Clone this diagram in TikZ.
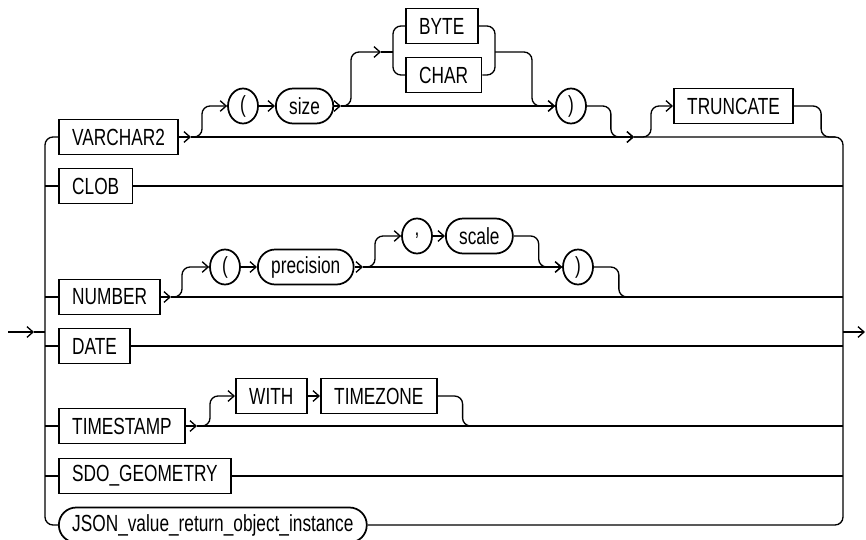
\documentclass[tikz,border=0pt]{standalone}
\usepackage{fontspec}
\setmainfont{Liberation Sans}[FakeStretch=0.74]
\usetikzlibrary{arrows.meta,shapes.geometric}
\tikzset{
rail/.style={line width=1pt, rounded corners=6pt},
railtip/.style={-{Straight Barb[length=4.5pt,width=8pt]}},
kwbox/.style={draw, rectangle, line width=1.3pt, minimum height=26.25pt, inner xsep=10pt, inner ysep=0pt, font=\fontsize{17.5}{19}\selectfont},
varbox/.style={draw, rectangle, rounded corners=13pt, line width=1.3pt, minimum height=26.25pt, inner xsep=10pt, inner ysep=0pt, font=\fontsize{17.5}{19}\selectfont},
punct/.style={draw, ellipse, line width=1.3pt, minimum width=22.5pt, minimum height=26.25pt, inner sep=0pt, font=\fontsize{17.5}{19}\selectfont}}

\begin{document}
\begin{tikzpicture}[x=0.75pt,y=0.75pt,yscale=-1,xscale=1]
\useasboundingbox (0,0) rectangle (866,539);

% Main choice
\node [kwbox, anchor=west] (vc) at (58,137) {VARCHAR2};
\node [kwbox, anchor=west] (clob) at (58,186) {CLOB};
\node [kwbox, anchor=west] (num) at (58,297) {NUMBER};
\node [kwbox, anchor=west] (date) at (58,346) {DATE};
\node [kwbox, anchor=west] (ts) at (58,426) {TIMESTAMP};
\node [kwbox, anchor=west] (sdo) at (58,476) {SDO\_GEOMETRY};
\node [varbox, anchor=west] (json) at (58,525) {JSON\_value\_return\_object\_instance};

% VARCHAR2 options
\node [punct] (lpa) at (243,106) {(};
\node [varbox, anchor=west] (size) at (275,106) {size};
\node [kwbox, anchor=west] (byte) at (405,26) {BYTE};
\node [kwbox, anchor=west] (char) at (405,75) {CHAR};
\node [punct] (rpa) at (571,106) {)};
\node [kwbox, anchor=west] (trunc) at (673,106) {TRUNCATE};

% NUMBER options
\node [punct] (lpb) at (225,267) {(};
\node [varbox, anchor=west] (prec) at (257,267) {precision};
\node [punct] (comma) at (417,236) {,};
\node [varbox, anchor=west] (scale) at (445,236) {scale};
\node [punct] (rpb) at (578,267) {)};

% TIMESTAMP options
\node [kwbox, anchor=west] (with) at (235,396) {WITH};
\node [kwbox, anchor=west] (tz) at (320,396) {TIMEZONE};

% Junctions
\coordinate (entry) at (8,332);
\coordinate (enT) at (34,332);
\coordinate (lb) at (45,332);
\coordinate (rb) at (843,332);
\coordinate (exT) at (865,332);
\coordinate (vcT) at (191,137);
\coordinate (vcM) at (634,137);
\coordinate (trJ) at (835,137);
\coordinate (szT) at (341,106);
\coordinate (chT) at (381,52);
\coordinate (bcl) at (393,52);
\coordinate (bcr) at (495,52);
\coordinate (nmT) at (171,297);
\coordinate (nmJ) at (650,297);
\coordinate (pcT) at (363,267);
\coordinate (tsT) at (197,426);
\coordinate (tsJ) at (490,426);

% Entry and exit
\draw [rail, railtip] (entry) -- (enT);
\draw [rail] (enT) -- (lb);
\draw [rail, railtip] (rb) -- (exT);

% Left bus
\draw [rail] (vc.west) -| (lb) |- (json.west);
\draw [rail] (clob.west -| lb) -- (clob.west);
\draw [rail] (num.west -| lb) -- (num.west);
\draw [rail] (date.west -| lb) -- (date.west);
\draw [rail] (ts.west -| lb) -- (ts.west);
\draw [rail] (sdo.west -| lb) -- (sdo.west);

% Right bus
\draw [rail] (vcM) -| (rb) |- (json.east);
\draw [rail] (clob.east) -- (clob.east -| rb);
\draw [rail] (date.east) -- (date.east -| rb);
\draw [rail] (sdo.east) -- (sdo.east -| rb);

% VARCHAR2 row
\draw [rail, railtip] (vc.east) -- (vcT);
\draw [rail, railtip] (vcT) -- (vcM);
\draw [rail, railtip] (vcT) -- ++(11,0) |- (lpa.west);
\draw [rail, railtip] (lpa) -- (size);
\draw [rail, railtip] (size.east) -- (szT);
\draw [rail, railtip] (szT) -- (rpa.west);
\draw [rail, railtip] (szT) -- ++(10,0) |- (chT);
\draw [rail] (chT) -- (bcl);
\draw [rail] (byte.west) -| (bcl) |- (char.west);
\draw [rail] (byte.east) -| (bcr) |- (char.east);
\draw [rail, railtip] (bcr) -- ++(37,0) |- (rpa.west);
\draw [rail, railtip] (rpa.east) -- ++(24,0) |- (vcM);
\draw [rail, railtip] (vcM) -- ++(17,0) |- (trunc.west);
\draw [rail] (trunc.east) -- ++(27,0) |- (trJ);

% NUMBER row
\draw [rail, railtip] (num.east) -- (nmT);
\draw [rail] (nmT) -- (nmT -| rb);
\draw [rail, railtip] (nmT) -- ++(11,0) |- (lpb.west);
\draw [rail, railtip] (lpb) -- (prec);
\draw [rail, railtip] (prec.east) -- (pcT);
\draw [rail, railtip] (pcT) -- (rpb.west);
\draw [rail, railtip] (pcT) -- ++(12,0) |- (comma.west);
\draw [rail, railtip] (comma) -- (scale);
\draw [rail, railtip] (scale.east) -- ++(25,0) |- (rpb.west);
\draw [rail] (rpb.east) -- ++(25,0) |- (nmJ);

% TIMESTAMP row
\draw [rail, railtip] (ts.east) -- (tsT);
\draw [rail] (tsT) -- (tsT -| rb);
\draw [rail, railtip] (tsT) -- ++(13,0) |- (with.west);
\draw [rail, railtip] (with) -- (tz);
\draw [rail] (tz.east) -- ++(25,0) |- (tsJ);

\end{tikzpicture}
\end{document}
